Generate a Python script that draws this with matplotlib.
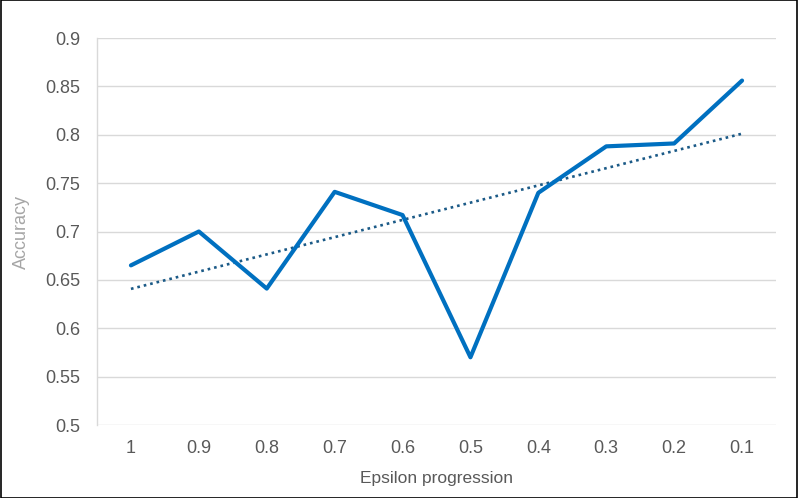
import matplotlib
matplotlib.use("Agg")
import matplotlib.pyplot as plt
import numpy as np

categories = ["1", "0.9", "0.8", "0.7", "0.6", "0.5", "0.4", "0.3", "0.2", "0.1"]
accuracy = [0.665, 0.700, 0.641, 0.741, 0.717, 0.570, 0.740, 0.788, 0.791, 0.856]
yticks = [0.5, 0.55, 0.6, 0.65, 0.7, 0.75, 0.8, 0.85, 0.9]
ytick_labels = ["0.5", "0.55", "0.6", "0.65", "0.7", "0.75", "0.8", "0.85", "0.9"]

plt.rcParams['font.family'] = ['Liberation Sans', 'DejaVu Sans']

fig = plt.figure(figsize=(7.98, 4.98), dpi=100)
ax = fig.add_axes([97/798, 1-425/498, (776-97)/798, (425-38)/498])

x = np.arange(1, len(categories) + 1)
ax.plot(x, accuracy, color="#0070C0", linewidth=3.0, solid_joinstyle="round",
        solid_capstyle="round", zorder=3)

coef = np.polyfit(x, accuracy, 1)
trend = np.polyval(coef, x)
ax.plot(x, trend, color="#1B5A87", linewidth=1.9, linestyle=(0, (1, 1.5)), zorder=2)

ax.set_xlim(0.5, 10.5)
ax.set_ylim(0.5, 0.9)
ax.set_yticks(yticks)
ax.set_yticklabels(ytick_labels)
ax.set_xticks(x)
ax.set_xticklabels(categories)

ax.grid(axis="y", color="#D9D9D9", linewidth=1.0)
ax.set_axisbelow(True)
for s in ["top", "right", "bottom"]:
    ax.spines[s].set_visible(False)
ax.spines["left"].set_color("#D9D9D9")
ax.spines["left"].set_linewidth(1.0)
ax.tick_params(axis="both", length=0, labelsize=13, labelcolor="#595959")
ax.tick_params(axis="y", pad=12)
ax.tick_params(axis="x", pad=11)

ax.set_ylabel("Accuracy", color="#A6A6A6", fontsize=13, labelpad=11)
ax.set_xlabel("Epsilon progression", color="#595959", fontsize=12.5, labelpad=10)

# outer border
fig.patches.append(plt.Rectangle((0.001, 0.001), 0.998, 0.998, transform=fig.transFigure,
                                 fill=False, edgecolor="black", linewidth=1.2))

fig.savefig("out.png", dpi=100)
